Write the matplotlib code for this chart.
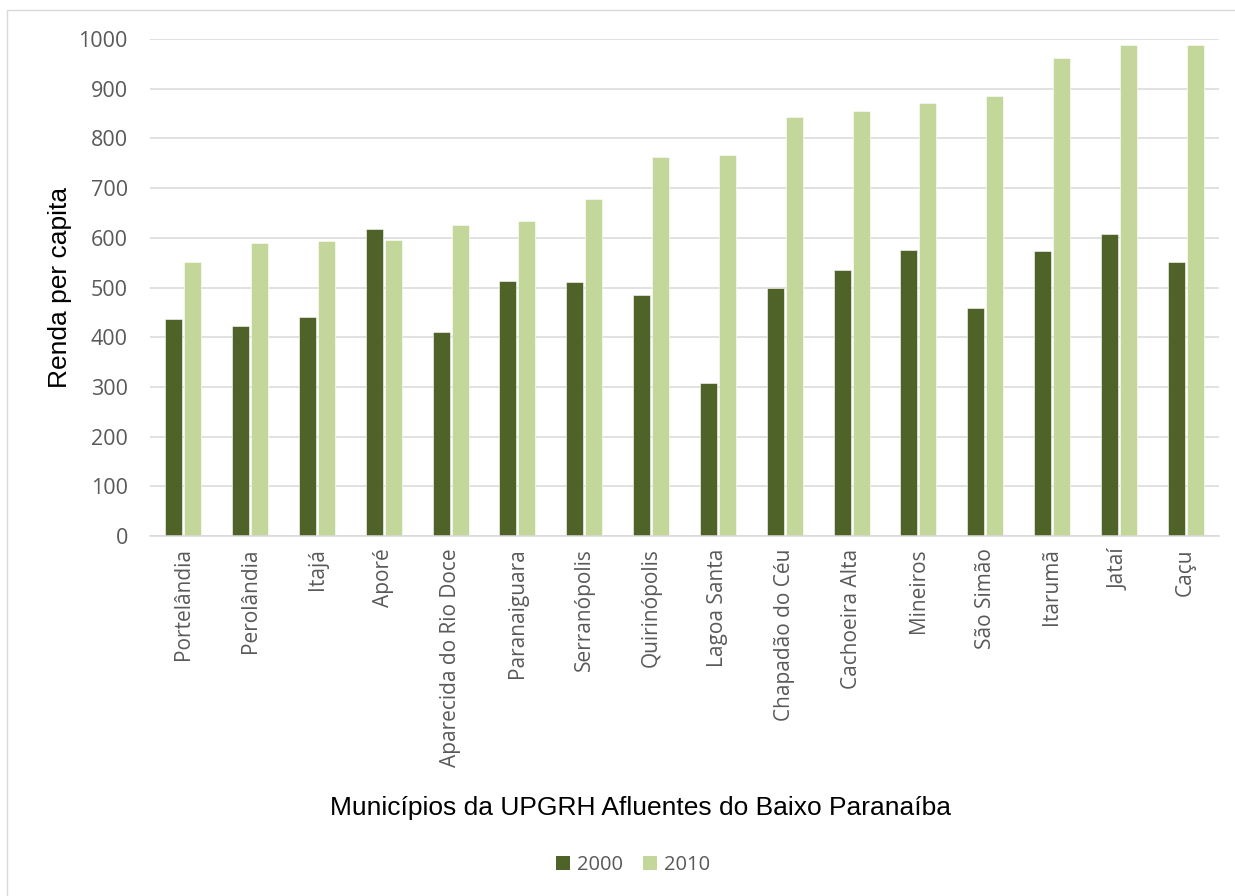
import matplotlib
matplotlib.use("Agg")
import matplotlib.pyplot as plt
import numpy as np
from matplotlib.patches import Rectangle, Patch

categories = ["Portelândia", "Perolândia", "Itajá", "Aporé", "Aparecida do Rio Doce",
              "Paranaiguara", "Serranópolis", "Quirinópolis", "Lagoa Santa", "Chapadão do Céu",
              "Cachoeira Alta", "Mineiros", "São Simão", "Itarumã", "Jataí", "Caçu"]
renda_2000 = [437, 422, 441, 618, 410, 513, 511, 485, 307, 499, 535, 575, 458, 573, 607, 552]
renda_2010 = [551, 590, 594, 596, 626, 634, 678, 763, 767, 843, 855, 871, 885, 962, 988, 988]
series_labels = ["2000", "2010"]
y_ticks = [0, 100, 200, 300, 400, 500, 600, 700, 800, 900, 1000]

W, H = 1235, 896
fig = plt.figure(figsize=(W / 100, H / 100), dpi=100)
ax = fig.add_axes([150 / W, 1 - 536 / H, (1219 - 150) / W, (536 - 39) / H])

tick_font = "Open Sans"
title_font = "Liberation Sans"
text_col = "#595959"
c2000 = "#4F6228"
c2010 = "#C4D79B"

x = np.arange(len(categories))
bw = 0.254
off = 0.142
ax.bar(x - off, renda_2000, width=bw, color=c2000, edgecolor="white", linewidth=0.4, zorder=3)
ax.bar(x + off, renda_2010, width=bw, color=c2010, edgecolor="white", linewidth=0.4, zorder=3)

ax.set_xlim(-0.5, len(categories) - 0.5)
ax.set_ylim(0, 1000)
ax.set_yticks(y_ticks)
ax.set_yticklabels([str(t) for t in y_ticks], fontfamily=tick_font, fontsize=15.5, color=text_col)
ax.set_xticks(x)
ax.set_xticklabels(categories, rotation=90, fontfamily=tick_font, fontsize=15, color=text_col)
ax.tick_params(axis="x", length=0, pad=9)
ax.tick_params(axis="y", length=0, pad=16)

ax.grid(axis="y", color="#D9D9D9", linewidth=1.1, zorder=0)
for s in ["top", "right", "left"]:
    ax.spines[s].set_visible(False)
ax.spines["bottom"].set_color("#D9D9D9")
ax.spines["bottom"].set_linewidth(1.1)
ax.spines["bottom"].set_zorder(4)

fig.text(60 / W, 1 - 287 / H, "Renda per capita", rotation=90, ha="center", va="center",
         fontfamily=title_font, fontsize=19, color="black")
fig.text(641 / W, 1 - 808 / H, "Municípios da UPGRH Afluentes do Baixo Paranaíba",
         ha="center", va="center", fontfamily=title_font, fontsize=19, color="black")

handles = [Patch(facecolor=c2000, edgecolor="none"), Patch(facecolor=c2010, edgecolor="none")]
leg = fig.legend(handles, series_labels, loc="center", bbox_to_anchor=(633 / W, 1 - 865 / H),
                 ncol=2, frameon=False, handlelength=0.7, handleheight=0.7,
                 handletextpad=0.35, columnspacing=1.0,
                 prop={"family": tick_font, "size": 14.5})
for t in leg.get_texts():
    t.set_color(text_col)

fig.patches.append(Rectangle((7 / W, -0.05), 1.2, 1 - 10 / H + 0.05, transform=fig.transFigure,
                             fill=False, edgecolor="#D9D9D9", linewidth=1.0, zorder=0))

fig.savefig("out.png", dpi=100, facecolor="white")
